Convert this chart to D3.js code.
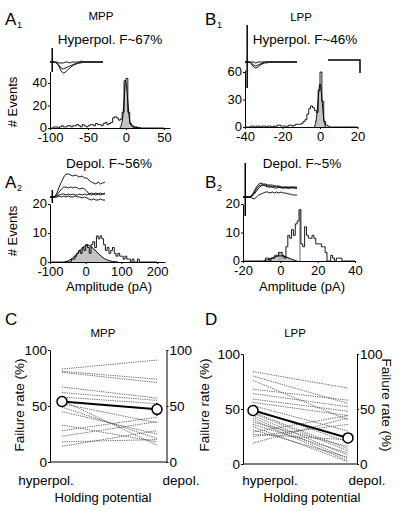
<!DOCTYPE html>
<html><head><meta charset="utf-8">
<script src="https://cdn.jsdelivr.net/npm/d3@7"></script>
<style>
body{margin:0;background:#fff;}
svg text{font-family:"Liberation Sans", Arial, Helvetica, sans-serif;fill:#000;}
</style></head><body>
<svg id="fig" width="400" height="513"></svg>
<script>
// ---------------- DATA ----------------
// A1 histogram (MPP, hyperpolarized): bin start, width, counts
const a1Start = -100, a1Width = 2.5;
const a1Counts = [0,0,1,1,0,1,2,1,1,2, 2,1,2,2,3,2,1,3,2,1, 2,3,3,2,4,3,3,2,4,5, 3,4,5,9,10,9,7,8,14,42, 44,14,4,2,1,1,0,0,0,0, 0,0,0,0,0,0,0,0,0,0];
const a1FitX = [-8,-6,-4,-2,-1,0,2,4,6,8,12,20];
const a1FitY = [0,2,9,30,42,44,28,9,3,1,0.5,0];
const a1XTicks = [-100,-50,0,50];
const a1YTicks = [0,20,40];

// B1 histogram (LPP, hyperpolarized)
const b1Start = -40, b1Width = 1;
const b1Counts = [0,0,0,1,1,0,1,1,0,1, 1,0,1,1,0,1,0,2,2,1, 1,1,0,2,2,1,2,3,3,3, 4,6,8,14,20,23,21,18,16,40, 60,28,6,2,1,0,0,0,0,0, 0,0,0,0,0,0,0,0,0,0];
const b1FitX = [-3,-2,-1,0,1,2,3];
const b1FitY = [0,5,30,55,32,6,0];
const b1XTicks = [-40,-20,0,20];
const b1YTicks = [0,30,60];

// A2 histogram (MPP, depolarized)
const a2Start = -100, a2Width = 5;
const a2Counts = [0,0,0,0,0,0,0,0,0,0, 0,0,1,1,2,3,4,3,5,4, 6,5,3,6,7,5,9,8,9,8, 6,4,5,3,4,5,3,2,3,2, 2,1,2,1,1,0,1,0,0,1, 0,0,0,0,0,0,0,0,0,0];
const a2FitX = [-60,-45,-30,-15,0,5,15,30,45,60,75,90];
const a2FitY = [0,0.5,2,4.3,5.8,6,5.5,3.6,1.7,0.6,0.15,0];
const a2XTicks = [-100,0,100,200];
const a2YTicks = [0,10,20];

// B2 histogram (LPP, depolarized)
const b2Start = -20, b2Width = 1;
const b2Counts = [0,0,0,0,0,0,0,0,0,0, 0,0,1,1,0,1,1,2,2,3, 3,2,1,5,9,8,11,9,13,14, 18,6,5,12,9,8,8,9,8,6, 6,6,5,5,3,0,0,2,1,0, 1,1,1,0,0,0,0,0,0,0];
const b2Shaded = [-1,0,10];
const b2FitX = [-9,-6,-3,0,3,6,9];
const b2FitY = [0,0.6,1.5,2,1.5,0.6,0];
const b2XTicks = [-20,0,20,40];
const b2YTicks = [0,10,20];

// Example traces (sample index, current in arbitrary pA units)
const a1Traces = [
  [0,0,0,-1,-4,-9,-11,-10,-8,-6,-4,-3,-2,-1,-1,0,0,0,0,0,0,0,0,0,0],
  [0,0,0,-1,-3,-6,-7,-6,-5,-4,-3,-2,-1,-1,0,0,0,0,0,0,0,0,0,0,0],
  [0,0,0,0,-1,-1,-1,0,0,-1,0,0,0,0,1,0,0,0,0,0,0,0,0,0,0]
];
const a1Artifact = [14,-10];
const b1Traces = [
  [0,0,0,-2,-5,-6,-5,-3,-2,-1,-1,0,0,0,0,0,0,0,0,0,0,0,0,0,0],
  [0,0,0,-1,-3,-4,-3,-2,-1,0,0,0,0,0,0,0,0,0,0,0,0,0,0,0,0],
  [0,0,0,0,0,-1,0,0,0,0,0,0,0,0,0,0,0,0,0,0,0,0,0,0,0]
];
const b1Artifact = [37,-26];
const a2Traces = [
  [0,0,0,4,10,15,20,23,23,22,21,22,21,20,21,19,19,17,15,14,13,15,13,14,15],
  [0,0,0,2,5,8,10,10,9,10,9,10,9,8,9,8,6,3,2,3,4,3,4,3,4],
  [0,0,0,1,2,3,3,2,3,2,3,2,2,3,2,3,2,3,4,3,2,3,2,3,3],
  [0,0,0,0,1,0,1,0,1,0,0,1,0,0,-1,0,-1,-2,-3,-2,-3,-3,-2,-3,-3]
];
const a2Artifact = [7,-6];
const b2Traces = [
  [0,0,0,0,2,6,10,13,14,13,13,12,12,12,11,11,11,10,10,10,10,10,10,10,10],
  [0,0,0,0,1,4,8,11,12,12,12,11,11,10,11,10,10,10,9,10,9,9,10,9,9],
  [0,0,0,0,1,3,6,9,11,12,11,10,10,10,9,9,10,9,9,9,9,9,9,9,9],
  [0,0,0,0,-1,-2,0,2,3,4,5,5,4,5,4,5,4,5,4,4,3,3,2,2,2]
];
const b2Artifact = [34,-19];

// Failure rates (%)
const conditions = ["hyperpol.", "depol."];
const rateTicks = [0,50,100];
const cHyper = [83,81,80,67,62,58,55,52,49,45,33,28,23,18,14];
const cDepol = [91,74,71,57,55,52,15,35,21,25,18,40,36,20,28];
const cMean = [54,47];
const cErr = [4,6];
const dHyper = [84,80,76,68,64,59,56,53,50,47,46,44,42,40,38,36,34,31,29,27,25,19];
const dDepol = [69,55,40,58,52,48,44,30,20,14,12,8,5,3,16,10,2,6,44,22,36,42];
const dMean = [48.6,23.7];
const dErr = [4,4];

// ---------------- DRAWING ----------------
const svg = d3.select("#fig");

function label(x, y, str, size, anchor, rot){
  const t = svg.append("text").attr("x", x).attr("y", y).attr("font-size", size)
    .attr("text-anchor", anchor || "start").text(str);
  if (rot) t.attr("transform", `rotate(${rot},${x},${y})`);
  return t;
}
function panelLetter(x, y, L, sub){
  label(x, y, L, 17);
  if (sub) label(x + 12, y + 3, sub, 9);
}

function styleAxis(g){
  g.selectAll("path,line").attr("stroke", "#000").attr("stroke-width", 1);
  g.selectAll("text").attr("font-size", 13).attr("fill", "#000")
    .attr("font-family", '"Liberation Sans", Arial, sans-serif');
}

function histogram(cfg){
  const g = svg.append("g");
  const x = d3.scaleLinear().domain(cfg.xDomain).range(cfg.xRange);
  const y = d3.scaleLinear().domain(cfg.yDomain).range(cfg.yRange);
  const fit = cfg.fitX.map((v, i) => [v, cfg.fitY[i]]);
  g.append("path")
    .attr("d", d3.area().x(d => x(d[0])).y0(y(0)).y1(d => y(d[1])).curve(d3.curveBasis)(fit))
    .attr("fill", "#c4c4c4");
  if (cfg.shaded){
    cfg.shaded.forEach(edge => {
      const i = Math.round((edge - cfg.start) / cfg.width);
      g.append("rect").attr("x", x(edge)).attr("width", x(edge + cfg.width) - x(edge))
        .attr("y", y(cfg.counts[i])).attr("height", y(0) - y(cfg.counts[i]))
        .attr("fill", "#b0b0b0");
    });
  }
  const pts = cfg.counts.map((c, i) => [cfg.start + i * cfg.width, c]);
  pts.push([cfg.start + cfg.counts.length * cfg.width, 0]);
  g.append("path")
    .attr("d", d3.line().x(d => x(d[0])).y(d => y(d[1])).curve(d3.curveStepAfter)(pts))
    .attr("fill", "none").attr("stroke", "#000").attr("stroke-width", 0.9);
  g.append("path")
    .attr("d", d3.line().x(d => x(d[0])).y(d => y(d[1])).curve(d3.curveBasis)(fit))
    .attr("fill", "none").attr("stroke", "#000").attr("stroke-width", 1);
  const xa = g.append("g").attr("transform", `translate(0,${cfg.yRange[0]})`)
    .call(d3.axisBottom(x).tickValues(cfg.xTicks).tickSize(2).tickPadding(3).tickSizeOuter(0).tickFormat(d => String(d)));
  styleAxis(xa);
  const ya = g.append("g").attr("transform", `translate(${cfg.xRange[0]},0)`)
    .call(d3.axisLeft(y).tickValues(cfg.yTicks).tickSize(2).tickPadding(1).tickSizeOuter(0).tickFormat(d => String(d)));
  styleAxis(ya);
  ya.selectAll("text").attr("dy", "0.28em");
}

function traces(cfg){
  const g = svg.append("g");
  const n = cfg.traces[0].length;
  const x = d3.scaleLinear().domain([0, n - 1]).range(cfg.xRange);
  const y = d3.scaleLinear().domain([-20, 20]).range([cfg.base + 20, cfg.base - 20]);
  const line = d3.line().x((d, i) => x(i)).y(d => y(d));
  cfg.traces.forEach(tr => {
    g.append("path").attr("d", line(tr)).attr("fill", "none")
      .attr("stroke", "#000").attr("stroke-width", 0.9);
  });
  g.append("line").attr("x1", x(1)).attr("x2", x(1))
    .attr("y1", y(cfg.artifact[0])).attr("y2", y(cfg.artifact[1]))
    .attr("stroke", "#000").attr("stroke-width", 1.5);
}

function rates(cfg){
  const g = svg.append("g");
  const x = d3.scalePoint().domain(conditions).range(cfg.ptRange);
  const y = d3.scaleLinear().domain([0, 100]).range(cfg.yRange);
  cfg.hyper.forEach((h, i) => {
    g.append("line").attr("x1", x(conditions[0])).attr("y1", y(h))
      .attr("x2", x(conditions[1])).attr("y2", y(cfg.depol[i]))
      .attr("stroke", "#444").attr("stroke-width", 0.8).attr("stroke-dasharray", "1.3,1");
  });
  g.append("line").attr("x1", x(conditions[0])).attr("y1", y(cfg.mean[0]))
    .attr("x2", x(conditions[1])).attr("y2", y(cfg.mean[1]))
    .attr("stroke", "#000").attr("stroke-width", 2);
  conditions.forEach((c, i) => {
    g.append("line").attr("x1", x(c)).attr("x2", x(c))
      .attr("y1", y(cfg.mean[i] + cfg.err[i])).attr("y2", y(cfg.mean[i] - cfg.err[i]))
      .attr("stroke", "#000").attr("stroke-width", 1.2);
    g.append("circle").attr("cx", x(c)).attr("cy", y(cfg.mean[i])).attr("r", 5)
      .attr("fill", "#fff").attr("stroke", "#000").attr("stroke-width", 1.5);
  });
  const la = g.append("g").attr("transform", `translate(${cfg.axL},0)`)
    .call(d3.axisLeft(y).tickValues(rateTicks).tickSize(2).tickPadding(1).tickSizeOuter(0));
  styleAxis(la);
  const ra = g.append("g").attr("transform", `translate(${cfg.axR},0)`)
    .call(d3.axisRight(y).tickValues(rateTicks).tickSize(2).tickPadding(1).tickSizeOuter(0));
  styleAxis(ra);
  la.selectAll("text").attr("font-size", 13.5);
  ra.selectAll("text").attr("font-size", 13.5);
  g.append("line").attr("x1", cfg.axL).attr("x2", cfg.axR)
    .attr("y1", y(0)).attr("y2", y(0)).attr("stroke", "#000").attr("stroke-width", 1);
}

// ---- A1 ----
panelLetter(5, 25, "A", "1");
label(101, 20, "MPP", 11.5, "middle");
label(110, 44, "Hyperpol. F~67%", 13.5, "middle");
traces({traces: a1Traces, artifact: a1Artifact, xRange: [50, 103], base: 62});
histogram({start: a1Start, width: a1Width, counts: a1Counts, fitX: a1FitX, fitY: a1FitY,
  xDomain: [-100, 58], xRange: [50, 170], yDomain: [0, 50], yRange: [128, 71.75],
  xTicks: a1XTicks, yTicks: a1YTicks});
label(17, 102, "# Events", 13, "middle", -90);

// ---- B1 ----
panelLetter(205, 25, "B", "1");
label(301, 21, "LPP", 11.5, "middle");
label(305, 44, "Hyperpol. F~46%", 13.5, "middle");
traces({traces: b1Traces, artifact: b1Artifact, xRange: [245, 297], base: 62});
histogram({start: b1Start, width: b1Width, counts: b1Counts, fitX: b1FitX, fitY: b1FitY,
  xDomain: [-40, 20], xRange: [245, 357.5], yDomain: [0, 62], yRange: [127, 70.2],
  xTicks: b1XTicks, yTicks: b1YTicks});
svg.append("path").attr("d", "M328,60H360V73").attr("fill", "none")
  .attr("stroke", "#000").attr("stroke-width", 1.5);

// ---- A2 ----
panelLetter(5, 188, "A", "2");
label(109, 168, "Depol. F~56%", 13.5, "middle");
traces({traces: a2Traces, artifact: a2Artifact, xRange: [50, 105], base: 197});
histogram({start: a2Start, width: a2Width, counts: a2Counts, fitX: a2FitX, fitY: a2FitY,
  xDomain: [-100, 222], xRange: [50, 165], yDomain: [0, 20], yRange: [262, 204],
  xTicks: a2XTicks, yTicks: a2YTicks});
label(17, 231, "# Events", 13, "middle", -90);
label(109, 291, "Amplitude (pA)", 13, "middle");

// ---- B2 ----
panelLetter(205, 188, "B", "2");
label(302, 168, "Depol. F~5%", 13.5, "middle");
traces({traces: b2Traces, artifact: b2Artifact, xRange: [243, 297], base: 197});
histogram({start: b2Start, width: b2Width, counts: b2Counts, shaded: b2Shaded, fitX: b2FitX, fitY: b2FitY,
  xDomain: [-20, 40], xRange: [243, 355], yDomain: [0, 20], yRange: [261, 204],
  xTicks: b2XTicks, yTicks: b2YTicks});
label(302, 291, "Amplitude (pA)", 13, "middle");

// ---- C ----
panelLetter(5, 325, "C");
label(103, 337, "MPP", 11.5, "middle");
rates({hyper: cHyper, depol: cDepol, mean: cMean, err: cErr,
  ptRange: [62, 157], axL: 50, axR: 166.5, yRange: [462, 350]});
label(24, 405, "Failure rate (%)", 13.5, "middle", -90);
label(46, 485, conditions[0], 13.5, "middle");
label(181, 485, conditions[1], 13.5, "middle");
label(103, 502, "Holding potential", 13, "middle");

// ---- D ----
panelLetter(205, 325, "D");
label(295, 337, "LPP", 11.5, "middle");
rates({hyper: dHyper, depol: dDepol, mean: dMean, err: dErr,
  ptRange: [253, 348], axL: 243, axR: 357, yRange: [464, 354]});
label(209, 405, "Failure rate (%)", 13.5, "middle", -90);
label(382, 405, "Failure rate (%)", 13.5, "middle", 90);
label(270, 485, conditions[0], 13.5, "middle");
label(367, 485, conditions[1], 13.5, "middle");
label(312, 502, "Holding potential", 13, "middle");
</script>
</body></html>
